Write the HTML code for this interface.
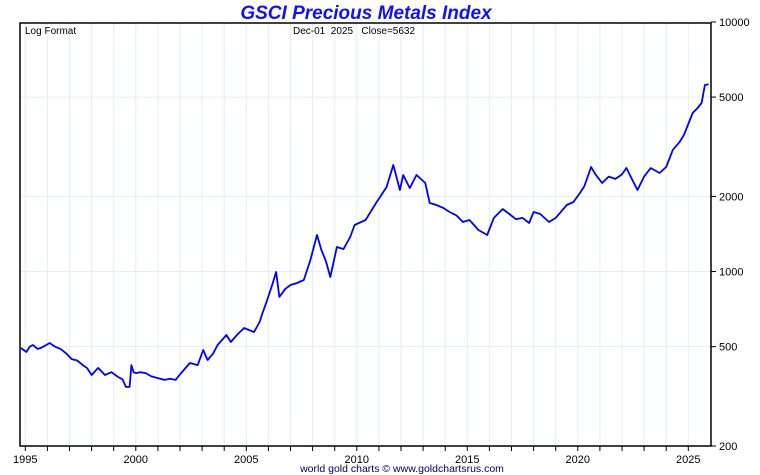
<!DOCTYPE html>
<html><head><meta charset="utf-8"><style>
body{margin:0;background:#fff;}
svg{display:block;font-family:"Liberation Sans",sans-serif;}
</style></head><body>
<svg id="chart" width="760" height="475">
<text x="366" y="19" text-anchor="middle" font-size="19" font-weight="bold" font-style="italic" fill="#1010ff">GSCI Precious Metals Index</text>
<g id="grid"></g>
<g id="axes"></g>
<path id="line" fill="none" stroke="#0000ff" stroke-width="1.8" stroke-linejoin="round"/>
<text x="25" y="34" font-size="10">Log Format</text>
<text x="293" y="34" font-size="10" xml:space="preserve">Dec-01  2025   Close=5632</text>
<text x="402" y="472" text-anchor="middle" font-size="10.5" fill="#000060">world gold charts © www.goldchartsrus.com</text>
</svg>
<script>
const years=[1994.8,1995.05,1995.2,1995.35,1995.55,1995.7,1995.9,1996.1,1996.35,1996.6,1996.85,1997.1,1997.35,1997.6,1997.8,1998.0,1998.3,1998.6,1998.9,1999.2,1999.4,1999.55,1999.72,1999.8,1999.9,2000.0,2000.2,2000.45,2000.7,2001.0,2001.3,2001.55,2001.8,2002.05,2002.45,2002.8,2003.05,2003.25,2003.5,2003.7,2004.1,2004.3,2004.6,2004.9,2005.35,2005.6,2005.75,2005.9,2006.2,2006.35,2006.5,2006.75,2007.0,2007.3,2007.6,2007.9,2008.2,2008.4,2008.6,2008.8,2009.1,2009.4,2009.7,2009.9,2010.4,2010.9,2011.35,2011.65,2011.95,2012.1,2012.4,2012.7,2013.1,2013.3,2013.6,2013.9,2014.2,2014.5,2014.8,2015.1,2015.5,2015.9,2016.2,2016.6,2016.9,2017.2,2017.5,2017.8,2018.0,2018.3,2018.7,2019.0,2019.5,2019.8,2020.1,2020.3,2020.6,2020.8,2021.1,2021.4,2021.7,2022.0,2022.2,2022.5,2022.7,2023.0,2023.3,2023.7,2024.0,2024.3,2024.6,2024.8,2025.0,2025.2,2025.4,2025.6,2025.75,2025.92];
const values=[494,476,500,508,490,494,505,517,500,489,470,446,440,422,410,385,411,385,395,378,370,345,345,422,395,392,395,392,380,374,368,372,368,392,430,422,485,442,470,508,557,522,560,594,572,628,689,748,900,996,791,850,883,900,925,1112,1401,1220,1100,951,1254,1230,1375,1536,1609,1899,2181,2673,2121,2436,2160,2436,2263,1882,1847,1800,1732,1680,1579,1609,1467,1401,1639,1780,1700,1620,1640,1565,1732,1700,1579,1640,1847,1900,2064,2200,2624,2450,2263,2400,2350,2450,2600,2300,2121,2400,2600,2483,2624,3070,3300,3524,3900,4318,4500,4734,5590,5632];
const yTicks=[10000,5000,2000,1000,500,200];
const xLabels=[1995,2000,2005,2010,2015,2020,2025];
const L=20,R=711,T=23,B=446;
function xs(yr){return 25.3+(yr-1995)*22.1;}
function ys(v){return B-249.6*Math.log10(v/200);}
const NS="http://www.w3.org/2000/svg";
function mk(tag,at,parent){const e=document.createElementNS(NS,tag);for(const k in at)e.setAttribute(k,at[k]);parent.appendChild(e);return e;}
const grid=document.getElementById('grid'),axes=document.getElementById('axes');
for(let yr=1995;yr<=2025;yr++){
  const x=xs(yr);
  const g=mk('line',{x1:x,x2:x,y1:T,y2:B,stroke:'#e2eef8','stroke-width':1},grid);
  
  
  const t=mk('line',{x1:x,x2:x,y1:B,y2:B+5,stroke:'#000','stroke-width':1},axes);
  
  
}
xLabels.forEach(yr=>{
  const t=mk('text',{x:xs(yr),y:463,'text-anchor':'middle','font-size':11},axes);
  t.textContent=yr;
  
  
});
yTicks.forEach(v=>{
  const y=ys(v);
  if(v<10000&&v>200){
    const g=mk('line',{x1:L,x2:R,y1:y,y2:y,stroke:'#e2eef8','stroke-width':1},grid);
    
    
  }
  const t=mk('line',{x1:R,x2:R+5,y1:y,y2:y,stroke:'#000','stroke-width':1},axes);
  
  
  const l=mk('text',{x:719,y:y+4,'font-size':11},axes);
  l.textContent=v;
  
  
});
const fr=mk('rect',{x:L,y:T,width:R-L,height:B-T,fill:'none',stroke:'#000','stroke-width':1.5},axes);


document.getElementById('line').setAttribute('d',years.map((yr,i)=>(i?'L':'M')+xs(yr).toFixed(1)+','+ys(values[i]).toFixed(1)).join(''));
</script>
</body></html>
